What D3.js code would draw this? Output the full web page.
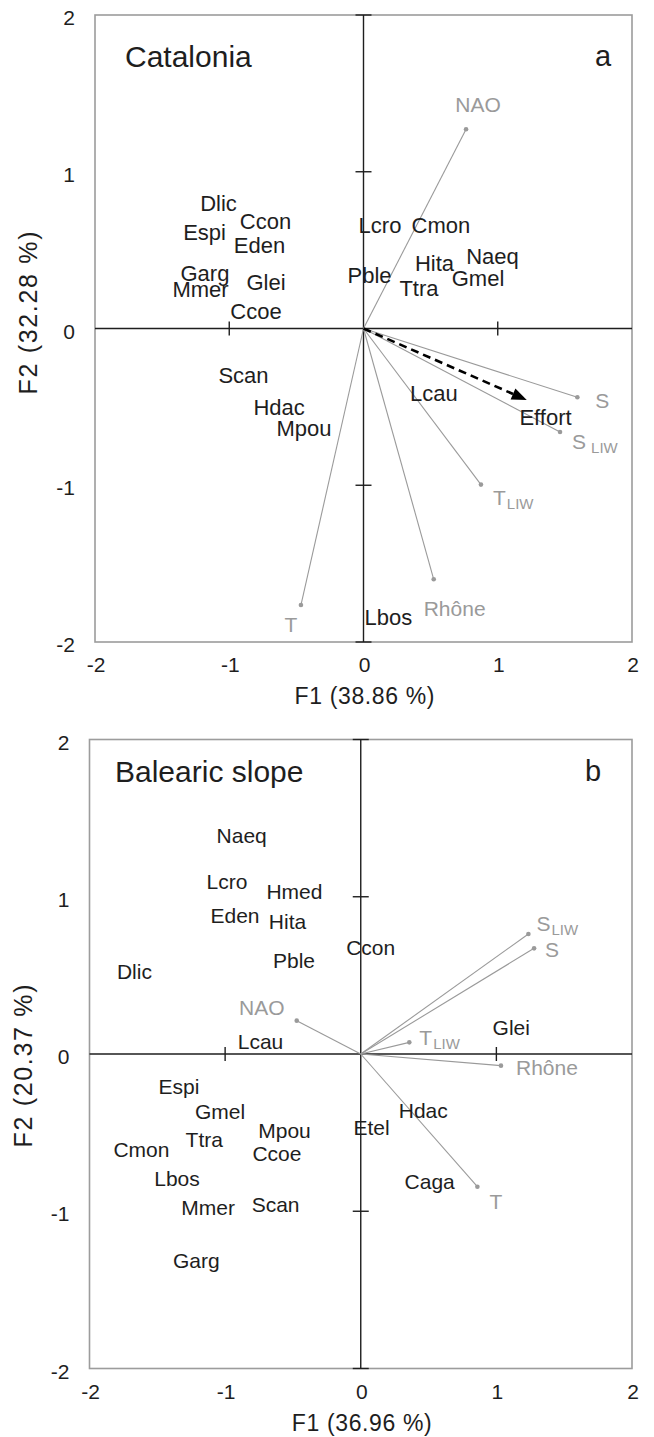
<!DOCTYPE html>
<html>
<head>
<meta charset="utf-8">
<script src="https://cdn.jsdelivr.net/npm/d3@7"></script>
<style>
  body { margin: 0; background: #fff; }
  svg text { font-family: "Liberation Sans", Arial, Helvetica, sans-serif; }
</style>
</head>
<body>
<svg id="chart" width="654" height="1437"></svg>
<script>
// ---------------- DATA ----------------
const tickValues = [-2, -1, 0, 1, 2];
const tickLabels = ["-2", "-1", "0", "1", "2"];

// Panel a: Catalonia
const catTitle = "Catalonia";
const catLetter = "a";
const catXTitle = "F1 (38.86 %)";
const catYTitle = "F2 (32.28 %)";
const catSpecies = ["Dlic","Ccon","Espi","Eden","Garg","Glei","Mmer","Ccoe","Lcro","Cmon","Naeq","Hita","Pble","Gmel","Ttra","Scan","Hdac","Mpou","Lcau","Effort","Lbos"];
const catSpF1 = [-1.080,-0.730,-1.184,-0.775,-1.181,-0.726,-1.214,-0.801,0.123,0.577,0.961,0.529,0.045,0.853,0.413,-0.894,-0.629,-0.443,0.525,1.356,0.186];
const catSpF2 = [0.797,0.686,0.616,0.533,0.352,0.297,0.250,0.112,0.660,0.660,0.463,0.418,0.341,0.322,0.258,-0.297,-0.499,-0.637,-0.413,-0.563,-1.839];
const catVars = ["NAO","S","S_LIW","T_LIW","Rhône","T"];
const catVarF1 = [0.764, 1.593, 1.464, 0.875, 0.523, -0.466];
const catVarF2 = [1.271, -0.439, -0.660, -0.996, -1.600, -1.764];
const catEffortF1 = 1.216;
const catEffortF2 = -0.456;

// Panel b: Balearic slope
const balTitle = "Balearic slope";
const balLetter = "b";
const balXTitle = "F1 (36.96 %)";
const balYTitle = "F2 (20.37 %)";
const balSpecies = ["Naeq","Lcro","Hmed","Eden","Hita","Pble","Dlic","Lcau","Ccon","Glei","Espi","Gmel","Mpou","Ttra","Cmon","Ccoe","Lbos","Mmer","Scan","Garg","Etel","Hdac","Caga"];
const balSpF1 = [-0.878,-0.986,-0.489,-0.927,-0.540,-0.492,-1.669,-0.739,0.073,1.110,-1.340,-1.038,-0.562,-1.154,-1.617,-0.618,-1.355,-1.125,-0.628,-1.213,0.080,0.461,0.508];
const balSpF2 = [1.393,1.096,1.035,0.882,0.841,0.598,0.523,0.078,0.676,0.169,-0.208,-0.367,-0.483,-0.541,-0.610,-0.631,-0.790,-0.977,-0.954,-1.315,-0.469,-0.356,-0.812];
const balVars = ["NAO","S_LIW","S","T_LIW","Rhône","T"];
const balVarF1 = [-0.472, 1.236, 1.278, 0.358, 1.034, 0.860];
const balVarF2 = [0.212, 0.763, 0.672, 0.074, -0.074, -0.844];

// ---------------- DRAWING ----------------
const svg = d3.select("#chart");
const GRAY = "#9a9a9a";
const BLACK = "#1e1e1e";

function drawPanel(cfg) {
  const x = d3.scaleLinear().domain([-2, 2]).range([cfg.left, cfg.right]);
  const y = d3.scaleLinear().domain([-2, 2]).range([cfg.bottom, cfg.top]);
  const g = svg.append("g");

  // frame
  g.append("rect")
    .attr("x", x(-2)).attr("y", y(2))
    .attr("width", x(2) - x(-2)).attr("height", y(-2) - y(2))
    .attr("fill", "none").attr("stroke", "#9c9c9c").attr("stroke-width", 1.6);

  // axes through origin
  g.append("line").attr("x1", x(-2)).attr("x2", x(2)).attr("y1", y(0)).attr("y2", y(0))
    .attr("stroke", BLACK).attr("stroke-width", 1.4);
  g.append("line").attr("x1", x(0)).attr("x2", x(0)).attr("y1", y(-2)).attr("y2", y(2))
    .attr("stroke", BLACK).attr("stroke-width", 1.4);
  // crossing ticks
  g.selectAll(".xt").data(tickValues.filter(v => v !== 0 && Math.abs(v) < 2)).enter().append("line")
    .attr("x1", d => x(d)).attr("x2", d => x(d))
    .attr("y1", y(0) - 7).attr("y2", y(0) + 7)
    .attr("stroke", BLACK).attr("stroke-width", 1.4);
  g.selectAll(".yt").data(tickValues.filter(v => v !== 0)).enter().append("line")
    .attr("x1", x(0) - 8).attr("x2", x(0) + 8)
    .attr("y1", d => y(d)).attr("y2", d => y(d))
    .attr("stroke", BLACK).attr("stroke-width", 1.4);

  // tick labels
  g.selectAll(".xl").data(tickValues).enter().append("text")
    .attr("x", (d, i) => x(d) + 1).attr("y", y(-2) + 30)
    .attr("text-anchor", "middle").attr("font-size", 21).attr("fill", BLACK)
    .text((d, i) => tickLabels[i]);
  g.selectAll(".yl").data(tickValues).enter().append("text")
    .attr("x", x(-2) - 20).attr("y", d => y(d) + 10)
    .attr("text-anchor", "end").attr("font-size", 21).attr("fill", BLACK)
    .text((d, i) => tickLabels[i]);

  // axis titles
  g.append("text").attr("x", x(0) + 1).attr("y", y(-2) + 62)
    .attr("text-anchor", "middle").attr("font-size", 23).attr("fill", BLACK)
    .attr("textLength", 140).attr("lengthAdjust", "spacing")
    .text(cfg.xTitle);
  g.append("text")
    .attr("transform", `translate(${cfg.yTitleX},${cfg.yTitleY}) rotate(-90)`)
    .attr("text-anchor", "middle").attr("font-size", 25).attr("fill", BLACK)
    .attr("textLength", 163).attr("lengthAdjust", "spacing")
    .text(cfg.yTitle);

  // panel title & letter
  g.append("text").attr("x", cfg.titleX).attr("y", cfg.titleY)
    .attr("font-size", 30).attr("fill", BLACK).text(cfg.title);
  g.append("text").attr("x", cfg.letterX).attr("y", cfg.titleY - 1)
    .attr("font-size", 29).attr("fill", BLACK).text(cfg.letter);

  // environmental vectors
  const vars = cfg.vars.map((n, i) => ({ name: n, f1: cfg.varF1[i], f2: cfg.varF2[i] }));
  g.selectAll(".vec").data(vars).enter().append("line")
    .attr("x1", x(0)).attr("y1", y(0))
    .attr("x2", d => x(d.f1)).attr("y2", d => y(d.f2))
    .attr("stroke", GRAY).attr("stroke-width", 1.1);
  g.selectAll(".dot").data(vars).enter().append("circle")
    .attr("cx", d => x(d.f1)).attr("cy", d => y(d.f2)).attr("r", 2.3)
    .attr("fill", GRAY);
  const vl = g.selectAll(".vl").data(vars).enter().append("text")
    .attr("x", d => x(d.f1) + cfg.varOff[d.name][0])
    .attr("y", d => y(d.f2) + cfg.varOff[d.name][1])
    .attr("text-anchor", d => cfg.varOff[d.name][2] || "start")
    .attr("font-size", 21).attr("fill", GRAY);
  vl.each(function(d) {
    const parts = d.name.split("_");
    const t = d3.select(this);
    t.append("tspan").text(parts[0]);
    if (parts[1]) {
      t.append("tspan").attr("dx", cfg.subGap[d.name] || 1).attr("dy", 4)
        .attr("font-size", 15).text(parts[1]);
    }
  });

  // effort arrow
  if (cfg.effort) {
    const x0 = x(0), y0 = y(0), x1 = x(cfg.effort[0]), y1 = y(cfg.effort[1]);
    const ang = Math.atan2(y1 - y0, x1 - x0);
    const L = 15, Wd = 6;
    const bx = x1 - L * Math.cos(ang), by = y1 - L * Math.sin(ang);
    g.append("line").attr("x1", x0).attr("y1", y0).attr("x2", bx).attr("y2", by)
      .attr("stroke", "#000").attr("stroke-width", 2.6).attr("stroke-dasharray", "8,5");
    g.append("path")
      .attr("d", `M${x1},${y1} L${bx - Wd * Math.sin(ang)},${by + Wd * Math.cos(ang)} L${bx + Wd * Math.sin(ang)},${by - Wd * Math.cos(ang)} Z`)
      .attr("fill", "#000");
  }

  // species labels
  const sp = cfg.species.map((n, i) => ({ name: n, f1: cfg.spF1[i], f2: cfg.spF2[i] }));
  g.selectAll(".sp").data(sp).enter().append("text")
    .attr("x", d => x(d.f1)).attr("y", d => y(d.f2))
    .attr("dy", "0.36em")
    .attr("text-anchor", "middle").attr("font-size", cfg.spSize).attr("fill", BLACK)
    .text(d => d.name);
}

drawPanel({
  left: 95, right: 632, top: 15, bottom: 642,
  title: catTitle, letter: catLetter, titleX: 125, titleY: 67, letterX: 595,
  xTitle: catXTitle, yTitle: catYTitle, yTitleX: 37, yTitleY: 313,
  species: catSpecies, spF1: catSpF1, spF2: catSpF2, spSize: 22,
  vars: catVars, varF1: catVarF1, varF2: catVarF2,
  varOff: { "NAO": [12, -17, "middle"], "S": [18, 11], "S_LIW": [12, 17], "T_LIW": [12, 20], "Rhône": [-10, 37], "T": [-10, 27, "middle"] },
  subGap: { "S_LIW": 5, "T_LIW": 0 },
  effort: [catEffortF1, catEffortF2]
});

drawPanel({
  left: 89.5, right: 632, top: 739.5, bottom: 1368.5,
  title: balTitle, letter: balLetter, titleX: 115, titleY: 782, letterX: 585,
  xTitle: balXTitle, yTitle: balYTitle, yTitleX: 32, yTitleY: 1066,
  species: balSpecies, spF1: balSpF1, spF2: balSpF2, spSize: 21,
  vars: balVars, varF1: balVarF1, varF2: balVarF2,
  varOff: { "NAO": [-35, -6, "middle"], "S": [11, 9], "S_LIW": [8, -3], "T_LIW": [10, 3], "Rhône": [15, 9], "T": [12, 22] },
  subGap: { "S_LIW": 0, "T_LIW": 0 },
  effort: null
});
</script>
</body>
</html>
